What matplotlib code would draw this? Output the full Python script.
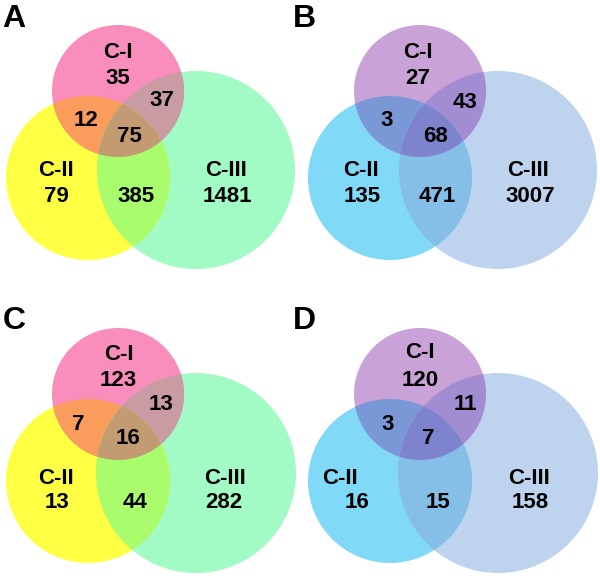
import numpy as np
import matplotlib
matplotlib.use("Agg")
import matplotlib.pyplot as plt
from matplotlib.patches import Circle, Polygon

# ---- data ----
panel_labels = ["A", "B", "C", "D"]
set_names = ["C-I", "C-II", "C-III"]
# order: only I, only II, only III, I&II, I&III, II&III, I&II&III
counts_A = [35, 79, 1481, 12, 37, 385, 75]
counts_B = [27, 135, 3007, 3, 43, 471, 68]
counts_C = [123, 13, 282, 7, 13, 44, 16]
counts_D = [120, 16, 158, 3, 11, 15, 7]
all_counts = [counts_A, counts_B, counts_C, counts_D]

warm = {"I": "#F98DBC", "II": "#FFFF44", "III": "#A2FAC4",
        "I_II": "#F99C5C", "I_III": "#C99BA2", "II_III": "#A9FC6C", "all": "#C29B72"}
cool = {"I": "#C9A2D8", "II": "#80D9F7", "III": "#BDD3EE",
        "I_II": "#7B98D6", "I_III": "#A28DD2", "II_III": "#85BEE6", "all": "#7D83CC"}
palettes = [warm, cool, warm, cool]

# ---- layout (pixel coordinates) ----
W, H = 600, 576
offsets = [(0, 0), (302, 0), (0, 303), (302, 303)]
circ_I = (118, 91, 66)
circ_II = (88, 178, 82)
circ_III = (196, 170, 99)

label_pos_top = {
    "name_I": (118, 53), "I": (118, 78), "I_III": (162, 101), "I_II": (86, 121),
    "all": (129, 137), "name_II": (56, 171), "II": (56, 197), "II_III": (136, 197),
    "name_III": (226, 171), "III": (227, 197),
}
label_pos_bot = {
    "name_I": (119, 51), "I": (118, 78), "I_III": (161, 101), "I_II": (78, 121),
    "all": (128, 136), "name_II": (56, 175), "II": (57, 200), "II_III": (135, 200),
    "name_III": (225, 175), "III": (224, 200),
}
label_pos_D = {
    "name_I": (118, 50), "I": (118, 78), "I_III": (163, 101), "I_II": (86, 121),
    "all": (126, 135), "name_II": (38, 175), "II": (55, 200), "II_III": (136, 200),
    "name_III": (227, 175), "III": (228, 200),
}
label_pos_B = {
    "name_I": (116, 53), "I": (116, 78), "I_III": (163, 102), "I_II": (85, 121),
    "all": (133, 136), "name_II": (59, 171), "II": (60, 197), "II_III": (135, 197),
    "name_III": (226, 171), "III": (228, 197),
}
label_positions = [label_pos_top, label_pos_B, label_pos_bot, label_pos_D]
panel_label_pos = [(2, 27), (293, 27), (3, 329), (293, 329)]

fig = plt.figure(figsize=(W / 100, H / 100), dpi=100)
ax = fig.add_axes([0, 0, 1, 1])
ax.set_xlim(0, W)
ax.set_ylim(H, 0)
ax.axis("off")

FONT = "Liberation Sans"


def intersection_polygon(circles):
    pts = []
    t = np.linspace(0, 2 * np.pi, 1440, endpoint=False)
    for i, (cx, cy, r) in enumerate(circles):
        px = cx + r * np.cos(t)
        py = cy + r * np.sin(t)
        keep = np.ones_like(px, dtype=bool)
        for j, (ox, oy, orr) in enumerate(circles):
            if j != i:
                keep &= (px - ox) ** 2 + (py - oy) ** 2 <= orr ** 2 + 1e-6
        pts.append(np.column_stack([px[keep], py[keep]]))
    pts = np.vstack(pts)
    c = pts.mean(axis=0)
    ang = np.arctan2(pts[:, 1] - c[1], pts[:, 0] - c[0])
    return pts[np.argsort(ang)]


keys = ["I", "II", "III", "I_II", "I_III", "II_III", "all"]

for k in range(4):
    dx, dy = offsets[k]
    pal = palettes[k]
    c1 = (circ_I[0] + dx, circ_I[1] + dy, circ_I[2])
    c2 = (circ_II[0] + dx, circ_II[1] + dy, circ_II[2])
    c3 = (circ_III[0] + dx, circ_III[1] + dy, circ_III[2] + (1 if k >= 2 else 0))
    for (cx, cy, r), key in [(c3, "III"), (c2, "II"), (c1, "I")]:
        ax.add_patch(Circle((cx, cy), r, facecolor=pal[key], edgecolor="none"))
    for pair, key in [((c1, c2), "I_II"), ((c1, c3), "I_III"), ((c2, c3), "II_III"),
                      ((c1, c2, c3), "all")]:
        poly = intersection_polygon(list(pair))
        ax.add_patch(Polygon(poly, closed=True, facecolor=pal[key], edgecolor="none"))

    pos = label_positions[k]
    cnt = dict(zip(keys, all_counts[k]))
    for name, nk in zip(set_names, ["name_I", "name_II", "name_III"]):
        x, y = pos[nk]
        ax.text(x + dx, y + dy, name, ha="center", va="center", fontsize=16,
                fontweight="bold", family=FONT, color="black")
    for key in keys:
        x, y = pos[key]
        ax.text(x + dx, y + dy, str(cnt[key]), ha="center", va="center", fontsize=16,
                fontweight="bold", family=FONT, color="black")
    lx, ly = panel_label_pos[k]
    ax.text(lx, ly, panel_labels[k], ha="left", va="baseline", fontsize=23,
            fontweight="bold", family=FONT, color="black")

fig.savefig("out.png", dpi=100)
